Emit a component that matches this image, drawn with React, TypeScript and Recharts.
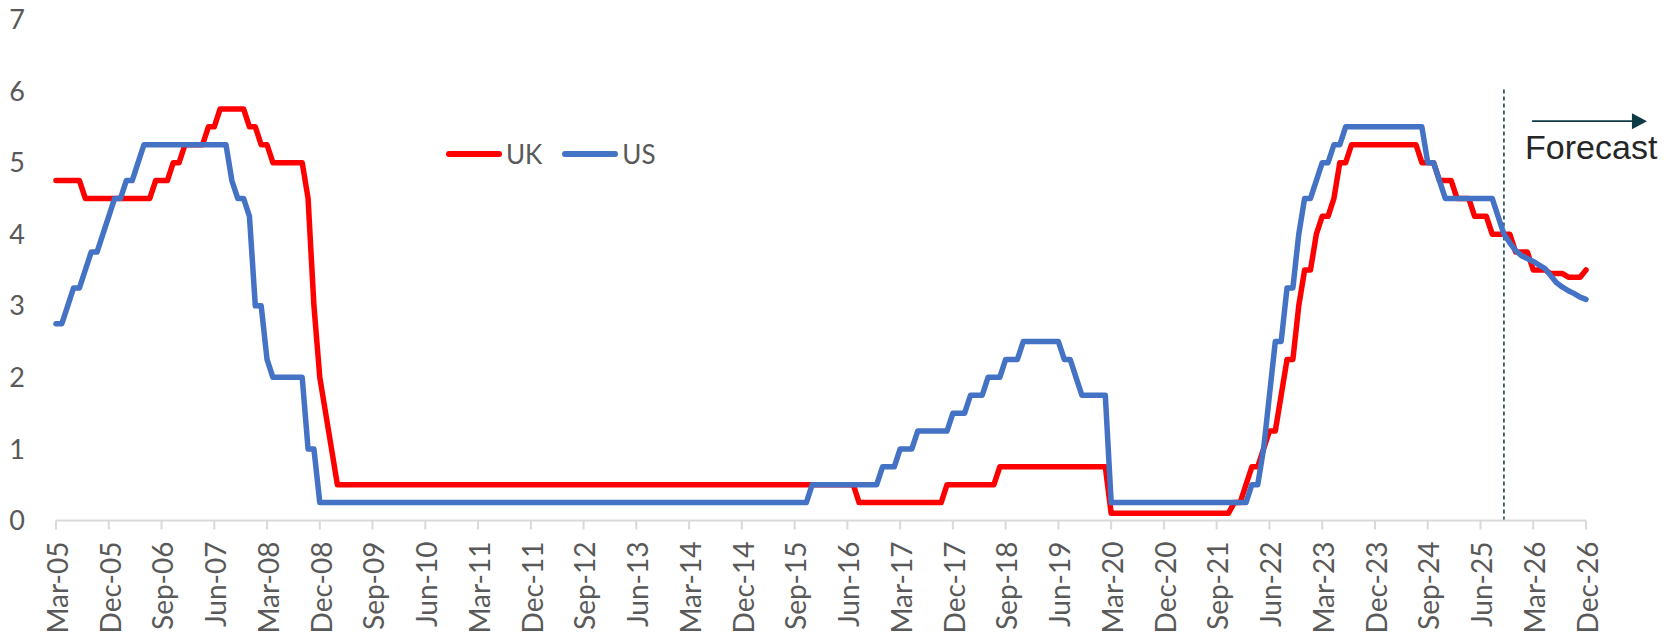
import React from 'react';
import { LineChart, Line, XAxis, YAxis, Legend, ReferenceLine } from 'recharts';

const monthNames = ['Jan', 'Feb', 'Mar', 'Apr', 'May', 'Jun', 'Jul', 'Aug', 'Sep', 'Oct', 'Nov', 'Dec'];

// Monthly policy rates, Mar-05 .. Dec-26 (one row per calendar year)
const ukRate = [
  4.75, 4.75, 4.75, 4.75, 4.75, 4.5, 4.5, 4.5, 4.5, 4.5,
  4.5, 4.5, 4.5, 4.5, 4.5, 4.5, 4.5, 4.75, 4.75, 4.75, 5, 5,
  5.25, 5.25, 5.25, 5.25, 5.5, 5.5, 5.75, 5.75, 5.75, 5.75, 5.75, 5.5,
  5.5, 5.25, 5.25, 5, 5, 5, 5, 5, 5, 4.5, 3, 2,
  1.5, 1, 0.5, 0.5, 0.5, 0.5, 0.5, 0.5, 0.5, 0.5, 0.5, 0.5,
  0.5, 0.5, 0.5, 0.5, 0.5, 0.5, 0.5, 0.5, 0.5, 0.5, 0.5, 0.5,
  0.5, 0.5, 0.5, 0.5, 0.5, 0.5, 0.5, 0.5, 0.5, 0.5, 0.5, 0.5,
  0.5, 0.5, 0.5, 0.5, 0.5, 0.5, 0.5, 0.5, 0.5, 0.5, 0.5, 0.5,
  0.5, 0.5, 0.5, 0.5, 0.5, 0.5, 0.5, 0.5, 0.5, 0.5, 0.5, 0.5,
  0.5, 0.5, 0.5, 0.5, 0.5, 0.5, 0.5, 0.5, 0.5, 0.5, 0.5, 0.5,
  0.5, 0.5, 0.5, 0.5, 0.5, 0.5, 0.5, 0.5, 0.5, 0.5, 0.5, 0.5,
  0.5, 0.5, 0.5, 0.5, 0.5, 0.5, 0.5, 0.25, 0.25, 0.25, 0.25, 0.25,
  0.25, 0.25, 0.25, 0.25, 0.25, 0.25, 0.25, 0.25, 0.25, 0.25, 0.5, 0.5,
  0.5, 0.5, 0.5, 0.5, 0.5, 0.5, 0.5, 0.75, 0.75, 0.75, 0.75, 0.75,
  0.75, 0.75, 0.75, 0.75, 0.75, 0.75, 0.75, 0.75, 0.75, 0.75, 0.75, 0.75,
  0.75, 0.75, 0.1, 0.1, 0.1, 0.1, 0.1, 0.1, 0.1, 0.1, 0.1, 0.1,
  0.1, 0.1, 0.1, 0.1, 0.1, 0.1, 0.1, 0.1, 0.1, 0.1, 0.1, 0.25,
  0.25, 0.5, 0.75, 0.75, 1, 1.25, 1.25, 1.75, 2.25, 2.25, 3, 3.5,
  3.5, 4, 4.25, 4.25, 4.5, 5, 5, 5.25, 5.25, 5.25, 5.25, 5.25,
  5.25, 5.25, 5.25, 5.25, 5.25, 5.25, 5.25, 5, 5, 5, 4.75, 4.75,
  4.75, 4.5, 4.5, 4.5, 4.25, 4.25, 4.25, 4, 4, 4, 4, 3.75,
  3.75, 3.75, 3.5, 3.5, 3.5, 3.45, 3.45, 3.45, 3.4, 3.4, 3.4, 3.5,
];

const usRate = [
  2.75, 2.75, 3, 3.25, 3.25, 3.5, 3.75, 3.75, 4, 4.25,
  4.5, 4.5, 4.75, 4.75, 5, 5.25, 5.25, 5.25, 5.25, 5.25, 5.25, 5.25,
  5.25, 5.25, 5.25, 5.25, 5.25, 5.25, 5.25, 5.25, 4.75, 4.5, 4.5, 4.25,
  3, 3, 2.25, 2, 2, 2, 2, 2, 2, 1, 1, 0.25,
  0.25, 0.25, 0.25, 0.25, 0.25, 0.25, 0.25, 0.25, 0.25, 0.25, 0.25, 0.25,
  0.25, 0.25, 0.25, 0.25, 0.25, 0.25, 0.25, 0.25, 0.25, 0.25, 0.25, 0.25,
  0.25, 0.25, 0.25, 0.25, 0.25, 0.25, 0.25, 0.25, 0.25, 0.25, 0.25, 0.25,
  0.25, 0.25, 0.25, 0.25, 0.25, 0.25, 0.25, 0.25, 0.25, 0.25, 0.25, 0.25,
  0.25, 0.25, 0.25, 0.25, 0.25, 0.25, 0.25, 0.25, 0.25, 0.25, 0.25, 0.25,
  0.25, 0.25, 0.25, 0.25, 0.25, 0.25, 0.25, 0.25, 0.25, 0.25, 0.25, 0.25,
  0.25, 0.25, 0.25, 0.25, 0.25, 0.25, 0.25, 0.25, 0.25, 0.25, 0.25, 0.5,
  0.5, 0.5, 0.5, 0.5, 0.5, 0.5, 0.5, 0.5, 0.5, 0.5, 0.5, 0.75,
  0.75, 0.75, 1, 1, 1, 1.25, 1.25, 1.25, 1.25, 1.25, 1.25, 1.5,
  1.5, 1.5, 1.75, 1.75, 1.75, 2, 2, 2, 2.25, 2.25, 2.25, 2.5,
  2.5, 2.5, 2.5, 2.5, 2.5, 2.5, 2.25, 2.25, 2, 1.75, 1.75, 1.75,
  1.75, 1.75, 0.25, 0.25, 0.25, 0.25, 0.25, 0.25, 0.25, 0.25, 0.25, 0.25,
  0.25, 0.25, 0.25, 0.25, 0.25, 0.25, 0.25, 0.25, 0.25, 0.25, 0.25, 0.25,
  0.25, 0.25, 0.5, 0.5, 1, 1.75, 2.5, 2.5, 3.25, 3.25, 4, 4.5,
  4.5, 4.75, 5, 5, 5.25, 5.25, 5.5, 5.5, 5.5, 5.5, 5.5, 5.5,
  5.5, 5.5, 5.5, 5.5, 5.5, 5.5, 5.5, 5.5, 5, 5, 4.75, 4.5,
  4.5, 4.5, 4.5, 4.5, 4.5, 4.5, 4.5, 4.5, 4.25, 4, 3.88, 3.77,
  3.7, 3.66, 3.62, 3.57, 3.52, 3.42, 3.32, 3.26, 3.21, 3.17, 3.12, 3.09,
];

const tickLabels = [
  'Mar-05', 'Dec-05', 'Sep-06', 'Jun-07', 'Mar-08', 'Dec-08', 'Sep-09', 'Jun-10', 'Mar-11', 'Dec-11',
  'Sep-12', 'Jun-13', 'Mar-14', 'Dec-14', 'Sep-15', 'Jun-16', 'Mar-17', 'Dec-17', 'Sep-18', 'Jun-19',
  'Mar-20', 'Dec-20', 'Sep-21', 'Jun-22', 'Mar-23', 'Dec-23', 'Sep-24', 'Jun-25', 'Mar-26', 'Dec-26',
];

const yTicks = [0, 1, 2, 3, 4, 5, 6, 7];
const seriesNames = ['UK', 'US'];
const seriesColors = ['#FF0000', '#4472C4'];
const forecastStart = 'Oct-25';
const forecastLabel = 'Forecast';

const categories = ukRate.map((_, i) => {
  const k = 2 + i;
  const yy = 5 + Math.floor(k / 12);
  return `${monthNames[k % 12]}-${String(yy).padStart(2, '0')}`;
});

const data = categories.map((month, i) => ({ i, month, UK: ukRate[i], US: usRate[i] }));
const tickIndex = tickLabels.map((t) => categories.indexOf(t));
const forecastIndex = categories.indexOf(forecastStart);
const lastIndex = categories.length - 1;

const FONT = 'Lato, "Open Sans", sans-serif';
const GREY = '#595959';
const DARK = '#0E3A46';

const XTick = (props: any) => {
  const { x, y, payload } = props;
  const label = categories[payload.value];
  return (
    <text
      x={x}
      y={y}
      transform={`rotate(-90 ${x} ${y})`}
      textAnchor="end"
      dy="0.42em"
      fill={GREY}
      fontSize={28}
      fontFamily={FONT}
    >
      {label}
    </text>
  );
};

const LegendContent = () => (
  <div style={{ display: 'flex', alignItems: 'center', fontFamily: FONT, fontSize: 26, color: GREY }}>
    {seriesNames.map((n, k) => (
      <div key={n} style={{ display: 'flex', alignItems: 'center', marginRight: k === 0 ? 20 : 0 }}>
        <svg width={56} height={10} style={{ display: 'block' }}>
          <line x1={3} y1={5} x2={53} y2={5} stroke={seriesColors[k]} strokeWidth={6} strokeLinecap="round" />
        </svg>
        <span style={{ marginLeft: 4, lineHeight: '32px' }}>{n}</span>
      </div>
    ))}
  </div>
);

const ArrowShape = (props: any) => {
  const { x1, y1, x2, y2 } = props;
  const head = 15;
  return (
    <g>
      <line x1={x1} y1={y1} x2={x2 - head} y2={y2} stroke={DARK} strokeWidth={1.6} />
      <polygon points={`${x2 - head},${y2 - 8} ${x2 - head},${y2 + 8} ${x2},${y2}`} fill={DARK} />
      <text
        x={x1 - 7}
        y={y1 + 38}
        fill="#262626"
        fontSize={34}
        fontFamily='"Liberation Sans", Arial, sans-serif'
      >
        {forecastLabel}
      </text>
    </g>
  );
};

export default function App() {
  return (
    <div style={{ width: 1666, height: 638, position: 'relative', background: '#fff' }}>
      <style>{'html,body{margin:0;padding:0;overflow:hidden;background:#fff}'}</style>
      <LineChart
        width={1666}
        height={638}
        data={data}
        margin={{ top: 19.5, right: 80, bottom: 0, left: 0 }}
      >
        <XAxis
          type="number"
          dataKey="i"
          domain={[0, lastIndex]}
          ticks={tickIndex}
          interval={0}
          height={117.5}
          axisLine={{ stroke: '#D9D9D9', strokeWidth: 2 }}
          tickLine={{ stroke: '#D9D9D9', strokeWidth: 2 }}
          tickSize={9}
          tickMargin={12}
          tick={<XTick />}
        />
        <YAxis
          domain={[0, 7]}
          ticks={yTicks}
          interval={0}
          width={56}
          axisLine={false}
          tickLine={false}
          tickSize={0}
          tickMargin={31}
          tick={{ fill: GREY, fontSize: 27, fontFamily: FONT }}
        />
        <ReferenceLine
          segment={[{ x: forecastIndex, y: 0 }, { x: forecastIndex, y: 6.04 }]}
          stroke={DARK}
          strokeWidth={1.5}
          strokeDasharray="4 3"
          ifOverflow="visible"
        />
        <ReferenceLine
          segment={[{ x: 251.8, y: 5.58 }, { x: 271.4, y: 5.58 }]}
          ifOverflow="visible"
          shape={ArrowShape}
        />
        <Legend
          layout="horizontal"
          verticalAlign="middle"
          align="center"
          content={<LegendContent />}
          wrapperStyle={{ position: 'absolute', left: 446, top: 138, width: 'auto' }}
        />
        <Line
          type="linear"
          dataKey="UK"
          name={seriesNames[0]}
          stroke={seriesColors[0]}
          strokeWidth={5.5}
          dot={false}
          strokeLinejoin="round"
          strokeLinecap="round"
          isAnimationActive={false}
        />
        <Line
          type="linear"
          dataKey="US"
          name={seriesNames[1]}
          stroke={seriesColors[1]}
          strokeWidth={5.5}
          dot={false}
          strokeLinejoin="round"
          strokeLinecap="round"
          isAnimationActive={false}
        />
      </LineChart>
    </div>
  );
}
